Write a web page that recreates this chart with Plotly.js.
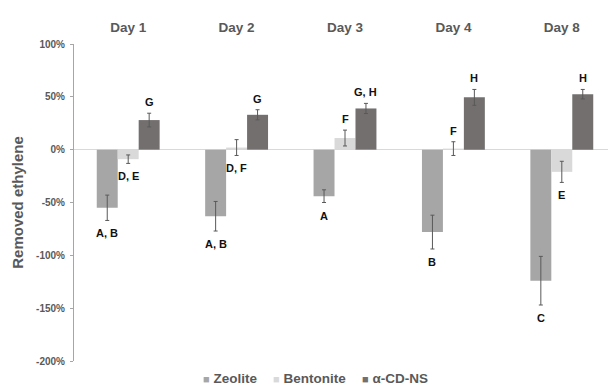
<!DOCTYPE html>
<html>
<head>
<meta charset="utf-8">
<script src="https://cdn.plot.ly/plotly-3.0.1.min.js"></script>
<style>
html,body{margin:0;padding:0;overflow:hidden;background:#fff;}
#chart{width:620px;height:387px;}
</style>
</head>
<body>
<div id="chart"></div>
<script>
// ---- data ----
var days = ['Day 1', 'Day 2', 'Day 3', 'Day 4', 'Day 8'];
var seriesNames = ['Zeolite', 'Bentonite', 'α-CD-NS'];
var zeolite = [-55, -63, -44, -78, -124];
var zeoliteErr = [12, 14, 6, 16, 23];
var bentonite = [-9, 2, 11, 1, -21];
var bentoniteErr = [4, 7.5, 7.5, 6.5, 10];
var cdns = [28, 33, 39, 49.5, 52.5];
var cdnsErr = [6.5, 4.8, 4.8, 7.5, 4.5];
var zeoliteLetters = ['A, B', 'A, B', 'A', 'B', 'C'];
var bentoniteLetters = ['D, E', 'D, F', 'F', 'F', 'E'];
var cdnsLetters = ['G', 'G', 'G, H', 'H', 'H'];
var zeolitePos = ['below', 'below', 'below', 'below', 'below'];
var bentonitePos = ['below', 'below', 'above', 'above', 'below'];
var cdnsPos = ['above', 'above', 'above', 'above', 'above'];
var yTicks = [-200, -150, -100, -50, 0, 50, 100];
var yTickLabels = ['-200%', '-150%', '-100%', '-50%', '0%', '50%', '100%'];

// ---- styles ----
var colors = ['#a6a6a6', '#d9d9d9', '#736f6f'];
var gray = '#595959';
var W = 620, H = 387;
var margin = {l: 74, r: 4, t: 44, b: 26};
var bargap = 0.42;

var values = [zeolite, bentonite, cdns];
var errs = [zeoliteErr, bentoniteErr, cdnsErr];
var letters = [zeoliteLetters, bentoniteLetters, cdnsLetters];
var positions = [zeolitePos, bentonitePos, cdnsPos];

var traces = values.map(function (v, s) {
  return {
    type: 'bar',
    name: seriesNames[s],
    x: days,
    y: v,
    marker: {color: colors[s], line: {width: 0}},
    error_y: {type: 'data', array: errs[s], visible: true, color: gray, thickness: 1, width: 2},
    showlegend: false,
    hoverinfo: 'x+y+name'
  };
});

var plotW = W - margin.l - margin.r;
var barPx = plotW / days.length * (1 - bargap) / seriesNames.length;

var annotations = [];
values.forEach(function (v, s) {
  v.forEach(function (val, i) {
    var above = positions[s][i] === 'above';
    annotations.push({
      x: days[i], xref: 'x',
      y: above ? val + errs[s][i] : val - errs[s][i], yref: 'y',
      xshift: (s - 1) * barPx,
      yshift: above ? 11 : -13,
      text: letters[s][i],
      showarrow: false,
      xanchor: 'center', yanchor: 'middle',
      font: {family: 'Liberation Sans, Arial, sans-serif', size: 11, color: '#111', weight: 'bold'}
    });
  });
});

// legend drawn as text entries
var legendX = [0.2346, 0.3636, 0.5276];
seriesNames.forEach(function (n, s) {
  annotations.push({
    x: legendX[s], xref: 'paper',
    y: -0.054, yref: 'paper',
    xanchor: 'left', yanchor: 'middle',
    showarrow: false,
    text: '<span style="color:' + colors[s] + ';font-size:11px">■</span> ' + n,
    font: {family: 'Liberation Sans, Arial, sans-serif', size: 13.5, color: gray, weight: 'bold'}
  });
});

var layout = {
  width: W, height: H,
  margin: margin,
  paper_bgcolor: '#fff',
  plot_bgcolor: '#fff',
  barmode: 'group',
  bargap: bargap,
  bargroupgap: 0,
  font: {family: 'Liberation Sans, Arial, sans-serif', color: gray},
  xaxis: {
    type: 'category',
    side: 'top',
    range: [-0.5, days.length - 0.5],
    showline: false, showgrid: false, zeroline: false,
    ticks: '',
    ticklabelstandoff: 8,
    tickfont: {size: 13.5, color: gray, weight: 'bold'}
  },
  yaxis: {
    range: [-200, 100],
    tickvals: yTicks,
    ticktext: yTickLabels,
    showline: true, linecolor: '#a6a6a6', linewidth: 1,
    ticks: 'outside', ticklen: 3, tickcolor: '#a6a6a6',
    ticklabelstandoff: 3,
    showgrid: false,
    zeroline: true, zerolinecolor: '#d9d9d9', zerolinewidth: 1,
    tickfont: {size: 10, color: gray, weight: 'bold'},
    title: {text: 'Removed ethylene', standoff: 8, font: {size: 15, color: gray, weight: 'bold'}}
  },
  annotations: annotations
};

Plotly.newPlot('chart', traces, layout, {displayModeBar: false, staticPlot: true});
</script>
</body>
</html>
